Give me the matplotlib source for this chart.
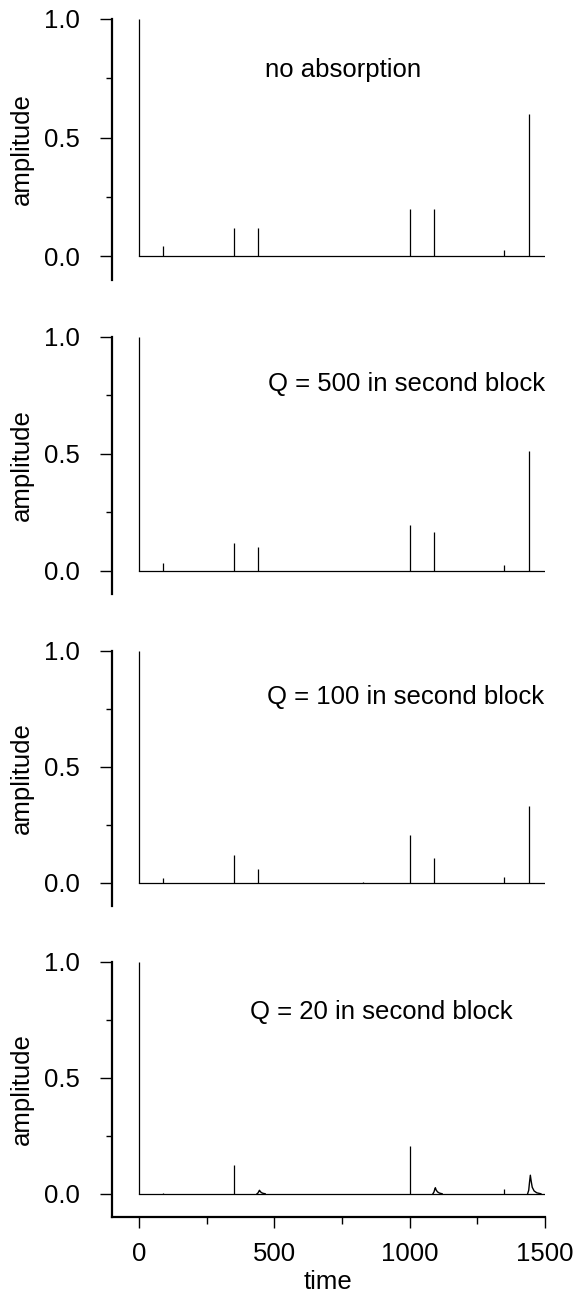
import numpy as np
import matplotlib.pyplot as plt
from matplotlib.ticker import MultipleLocator

plt.rcParams['font.family'] = ['Liberation Sans', 'DejaVu Sans']

# arrival times of the reflected pulses (same for every panel)
arrival_times = [0, 90, 350, 440, 828, 1000, 1090, 1350, 1440]

# spike amplitudes
amp_no_absorption = [1.0, 0.042, 0.118, 0.118, 0.0, 0.200, 0.200, 0.027, 0.60]
amp_q500 = [1.0, 0.034, 0.117, 0.100, 0.0, 0.197, 0.165, 0.025, 0.51]
amp_q100 = [1.0, 0.023, 0.120, 0.060, 0.005, 0.207, 0.109, 0.026, 0.33]
amp_q20 = [1.0, 0.004, 0.123, 0.0, 0.0, 0.205, 0.0, 0.020, 0.0]

# broadened pulses in the Q = 20 trace
q20_pulse1_t = [436, 440, 443, 445, 448, 452, 458, 466]
q20_pulse1_a = [0.0, 0.004, 0.011, 0.015, 0.010, 0.005, 0.002, 0.0]
q20_pulse2_t = [1086, 1090, 1093, 1095, 1098, 1103, 1110, 1120]
q20_pulse2_a = [0.0, 0.008, 0.020, 0.026, 0.016, 0.008, 0.003, 0.0]
q20_pulse3_t = [1436, 1440, 1443, 1446, 1449, 1453, 1460, 1470, 1485]
q20_pulse3_a = [0.0, 0.015, 0.050, 0.080, 0.055, 0.028, 0.012, 0.004, 0.0]

panel_titles = ["no absorption", "Q = 500 in second block",
                "Q = 100 in second block", "Q = 20 in second block"]
panel_amps = [amp_no_absorption, amp_q500, amp_q100, amp_q20]
title_pos = [(754, 0.785), (990, 0.80), (985, 0.80), (894, 0.786)]

# axes boxes [left, bottom, width, height] in figure fraction
boxes = [
    [0.1944, 0.7840, 0.7517, 0.2014],
    [0.1944, 0.5417, 0.7517, 0.1983],
    [0.1944, 0.3009, 0.7517, 0.1968],
    [0.1944, 0.0610, 0.7517, 0.1968],
]

fig = plt.figure(figsize=(5.76, 12.96), dpi=100)
fs = 18.5

for i, (box, amps, title, tpos) in enumerate(zip(boxes, panel_amps, panel_titles, title_pos)):
    ax = fig.add_axes(box)
    # baseline and spikes
    ax.plot([0, 1500], [0, 0], color='black', lw=0.9)
    ax.vlines(arrival_times, 0, amps, color='black', lw=0.9)
    if i == 3:
        for pt, pa in [(q20_pulse1_t, q20_pulse1_a), (q20_pulse2_t, q20_pulse2_a),
                       (q20_pulse3_t, q20_pulse3_a)]:
            ax.plot(pt, pa, color='black', lw=1.0)

    ax.set_xlim(-100, 1500)
    ax.set_ylim(-0.1, 1.0)
    ax.spines['top'].set_visible(False)
    ax.spines['right'].set_visible(False)
    ax.spines['left'].set_linewidth(1.6)
    ax.spines['bottom'].set_linewidth(1.6)

    ax.yaxis.set_major_locator(MultipleLocator(0.5))
    ax.yaxis.set_minor_locator(MultipleLocator(0.25))
    ax.set_yticks([0.0, 0.5, 1.0], ["0.0", "0.5", "1.0"])
    ax.tick_params(axis='y', which='major', direction='out', length=9, width=1.0,
                   pad=14, labelsize=fs)
    ax.tick_params(axis='y', which='minor', direction='out', length=4.5, width=1.0)
    ax.set_ylabel("amplitude", fontsize=fs)
    ax.yaxis.set_label_coords(-0.18, 0.5)

    if i < 3:
        ax.spines['bottom'].set_visible(False)
        ax.tick_params(axis='x', which='both', bottom=False, labelbottom=False)
    else:
        ax.xaxis.set_major_locator(MultipleLocator(500))
        ax.xaxis.set_minor_locator(MultipleLocator(250))
        ax.set_xticks([0, 500, 1000, 1500])
        ax.tick_params(axis='x', which='major', direction='out', length=8, width=1.0,
                       pad=10, labelsize=fs)
        ax.tick_params(axis='x', which='minor', direction='out', length=5, width=1.0)
        ax.set_xlabel("time", fontsize=fs, labelpad=3)

    ax.text(tpos[0], tpos[1], title, ha='center', va='center', fontsize=fs)

fig.savefig("out.png", dpi=100)
